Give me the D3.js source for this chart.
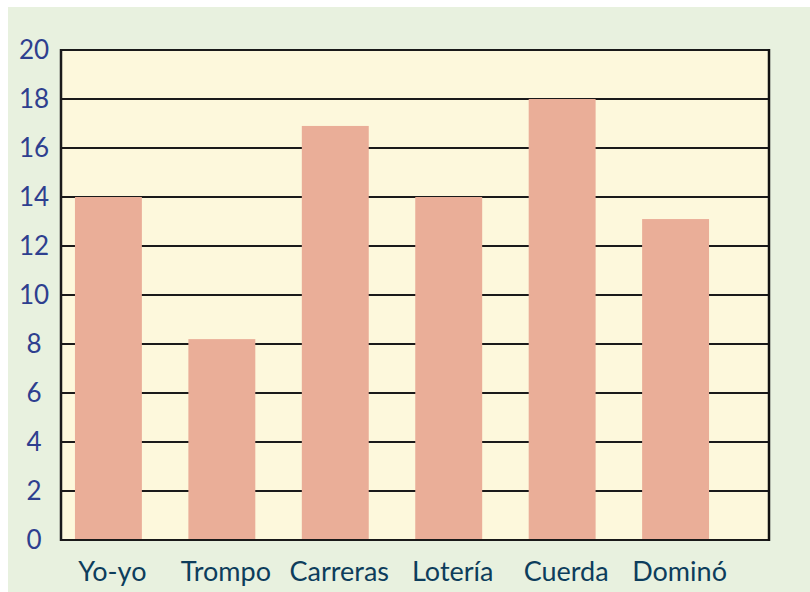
<!DOCTYPE html>
<html>
<head>
<meta charset="utf-8">
<script src="https://cdn.jsdelivr.net/npm/d3@7"></script>
<style>
  body { margin: 0; background: #fff; }
  svg { display: block; }
</style>
</head>
<body>
<svg id="chart"></svg>
<script>
const categories = ["Yo-yo", "Trompo", "Carreras", "Lotería", "Cuerda", "Dominó"];
const values = [14, 8.2, 16.9, 14, 18, 13.1];
const yTicks = [0, 2, 4, 6, 8, 10, 12, 14, 16, 18, 20];

const W = 810, H = 592;
const plot = { left: 61, top: 50, right: 769, bottom: 540 };

const svg = d3.select("#chart").attr("width", W).attr("height", H);

// panel background
svg.append("rect")
  .attr("x", 8).attr("y", 7)
  .attr("width", W - 8).attr("height", H - 7)
  .attr("fill", "#e8f1df");

const y = d3.scaleLinear().domain([0, 20]).range([plot.bottom, plot.top]);

const x = d3.scaleBand()
  .domain(categories)
  .range([plot.left, 723])
  .paddingInner(0.41)
  .paddingOuter(0.123);

svg.append("rect")
  .attr("x", plot.left).attr("y", plot.top)
  .attr("width", plot.right - plot.left).attr("height", plot.bottom - plot.top)
  .attr("fill", "#fdf8dc");

// gridlines
svg.append("g")
  .selectAll("line")
  .data(yTicks)
  .join("line")
  .attr("x1", plot.left).attr("x2", plot.right)
  .attr("y1", d => y(d)).attr("y2", d => y(d))
  .attr("stroke", "#1a1a1a")
  .attr("stroke-width", 2);

// bars
svg.append("g")
  .selectAll("rect")
  .data(values)
  .join("rect")
  .attr("x", (d, i) => x(categories[i]))
  .attr("y", d => y(d))
  .attr("width", x.bandwidth())
  .attr("height", d => y(0) - y(d) - 1)
  .attr("fill", "#eaae98");

// frame sides
svg.append("line")
  .attr("x1", plot.left).attr("x2", plot.left)
  .attr("y1", plot.top - 1).attr("y2", plot.bottom + 1)
  .attr("stroke", "#1a1a1a").attr("stroke-width", 2.5);
svg.append("line")
  .attr("x1", plot.right).attr("x2", plot.right)
  .attr("y1", plot.top - 1).attr("y2", plot.bottom + 1)
  .attr("stroke", "#111").attr("stroke-width", 2.5);

// y tick labels
svg.append("g")
  .selectAll("text")
  .data(yTicks)
  .join("text")
  .attr("x", 34)
  .attr("y", d => y(d))
  .attr("dy", "0.36em")
  .attr("text-anchor", "middle")
  .attr("font-family", "Lato, 'Noto Sans', sans-serif")
  .attr("font-size", 26)
  .attr("fill", "#2e3f8f")
  .text(d => d);

// x labels
svg.append("g")
  .selectAll("text")
  .data(categories)
  .join("text")
  .attr("x", d => x(d) + x.bandwidth() / 2 + 4)
  .attr("y", 581)
  .attr("text-anchor", "middle")
  .attr("font-family", "Lato, 'Noto Sans', sans-serif")
  .attr("font-size", 27)
  .attr("fill", "#0d3d5c")
  .text(d => d);
</script>
</body>
</html>
